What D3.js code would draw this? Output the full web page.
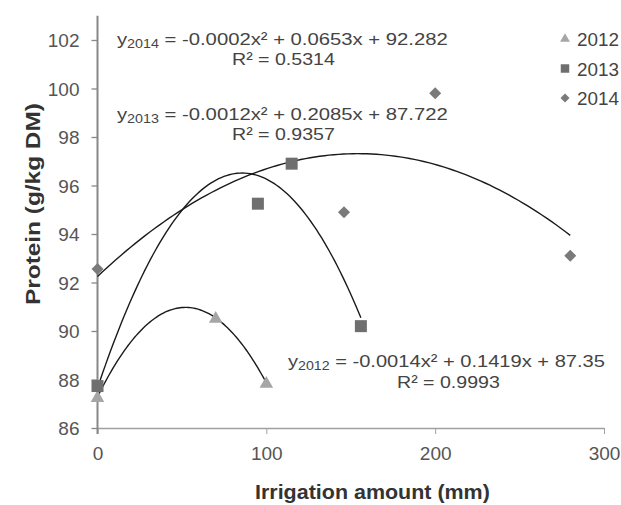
<!DOCTYPE html>
<html>
<head>
<meta charset="utf-8">
<script src="https://cdn.jsdelivr.net/npm/d3@7"></script>
<style>
  body { margin: 0; background: #fff; }
  svg { display: block; font-family: "Liberation Sans", Arial, sans-serif; }
</style>
</head>
<body>
<svg id="chart"></svg>
<script>
(function() {

    // Data
    const years = ['2012', '2013', '2014'];
    const irrigation2012 = [0, 70, 100];
    const protein2012 = [87.28, 90.54, 87.86];
    const irrigation2013 = [0, 95, 115, 156];
    const protein2013 = [87.73, 95.25, 96.9, 90.2];
    const irrigation2014 = [0, 146, 200, 280];
    const protein2014 = [92.56, 94.9, 99.8, 93.1];
    const xTicks = [0, 100, 200, 300];
    const yTicks = [86, 88, 90, 92, 94, 96, 98, 100, 102];
    const eqSubs = ['2014', '2013', '2012'];
    const eqTexts = [' = -0.0002x² + 0.0653x + 92.282', ' = -0.0012x² + 0.2085x + 87.722', ' = -0.0014x² + 0.1419x + 87.35'];
    const r2Texts = ['R² = 0.5314', 'R² = 0.9357', 'R² = 0.9993'];

    const w = 621;
    const h = 505;

    const series = [
        { year: years[0], xs: irrigation2012, ys: protein2012, shape: 'triangle', color: '#a6a6a6' },
        { year: years[1], xs: irrigation2013, ys: protein2013, shape: 'square', color: '#6f6f6f' },
        { year: years[2], xs: irrigation2014, ys: protein2014, shape: 'diamond', color: '#7a7a7a' }
    ];

    // least squares, 2nd order (what the trendline is)
    const polyfit = (xs, ys) => {
        let s = [0, 0, 0, 0, 0], t = [0, 0, 0];
        xs.forEach((x, i) => {
            for (let k = 0; k < 5; k++) s[k] += Math.pow(x, k);
            for (let k = 0; k < 3; k++) t[k] += ys[i] * Math.pow(x, k);
        });
        const m = [
            [s[0], s[1], s[2], t[0]],
            [s[1], s[2], s[3], t[1]],
            [s[2], s[3], s[4], t[2]]
        ];
        for (let i = 0; i < 3; i++) {
            let p = i;
            for (let r = i + 1; r < 3; r++) if (Math.abs(m[r][i]) > Math.abs(m[p][i])) p = r;
            [m[i], m[p]] = [m[p], m[i]];
            for (let r = 0; r < 3; r++) {
                if (r === i) continue;
                const f = m[r][i] / m[i][i];
                for (let c = i; c < 4; c++) m[r][c] -= f * m[i][c];
            }
        }
        return [m[0][3] / m[0][0], m[1][3] / m[1][1], m[2][3] / m[2][2]];
    };

    // stretch a text group so it covers [x0, x0 + width] (in its parent's coords)
    const fitText = (g, x0, y, width) => {
        const bb = g.node().getBBox();
        g.attr('transform', `translate(${x0 - bb.x * width / bb.width}, ${y}) scale(${width / bb.width}, 1)`);
    };

    // Scales
    const scaleX = d3.scaleLinear().domain([0, 300]).range([97.5, 604]);
    const scaleY = d3.scaleLinear().domain([86, 103]).range([428, 15.75]);

    const svg = d3.select('#chart')
        .attr('width', w)
        .attr('height', h);

    // Axes
    const xAxis = d3.axisBottom(scaleX).tickValues(xTicks).tickSize(6).tickSizeOuter(0);
    const yAxis = d3.axisLeft(scaleY).tickValues(yTicks).tickSize(6).tickSizeOuter(0);

    const gx = svg.append('g')
        .attr('transform', `translate(0, ${scaleY(86)})`)
        .call(xAxis);
    gx.select('.domain').attr('stroke', '#a0a0a0').attr('stroke-width', 1.3);
    gx.selectAll('.tick line').attr('stroke', '#a0a0a0');
    gx.selectAll('.tick text')
        .attr('dy', 0).attr('y', 32)
        .style('font-size', '19px').attr('fill', '#555');

    const gy = svg.append('g')
        .attr('transform', `translate(${scaleX(0)}, 0)`)
        .call(yAxis);
    gy.select('.domain').attr('d', `M0,${scaleY(86) + 6}V${scaleY(103)}`)
        .attr('stroke', '#888').attr('stroke-width', 2);
    gy.selectAll('.tick line').attr('stroke', '#888').attr('stroke-width', 1.3);
    gy.selectAll('.tick text')
        .attr('x', -18).attr('dy', '0.35em')
        .style('font-size', '19px').attr('fill', '#555');

    // Axis titles
    const yTitle = svg.append('g');
    yTitle.append('text')
        .style('font-size', '20px').style('font-weight', 'bold')
        .attr('fill', '#333')
        .text('Protein (g/kg DM)');
    const yb = yTitle.node().getBBox();
    yTitle.attr('transform', `translate(40, 305) rotate(-90) scale(${202 / yb.width}, 1)`);

    const xTitle = svg.append('g');
    xTitle.append('text')
        .style('font-size', '20px').style('font-weight', 'bold')
        .attr('fill', '#333')
        .text('Irrigation amount (mm)');
    fitText(xTitle, 255, 499, 235);

    // Trendlines
    const line = d3.line().x(d => scaleX(d[0])).y(d => scaleY(d[1]));
    series.forEach(s => {
        const [c, b, a] = polyfit(s.xs, s.ys);
        const x0 = d3.min(s.xs), x1 = d3.max(s.xs);
        const pts = d3.range(0, 101).map(i => {
            const x = x0 + (x1 - x0) * i / 100;
            return [x, a * x * x + b * x + c];
        });
        svg.append('path')
            .attr('d', line(pts))
            .attr('fill', 'none')
            .attr('stroke', '#1a1a1a')
            .attr('stroke-width', 1.4);
    });

    // Markers
    const symbolFor = (shape, big) => {
        if (shape === 'triangle') return d3.symbol(d3.symbolTriangle, big ? 80 : 42)();
        if (shape === 'square') return d3.symbol(d3.symbolSquare, big ? 144 : 72)();
        return d3.symbol(d3.symbolSquare, big ? 72 : 40)();
    };

    series.forEach(s => {
        svg.append('g').selectAll('path')
            .data(s.xs.map((x, i) => [x, s.ys[i]]))
            .enter().append('path')
            .attr('d', symbolFor(s.shape, true))
            .attr('transform', d => `translate(${scaleX(d[0])}, ${scaleY(d[1]) + (s.shape === 'triangle' ? 1 : 0)})` + (s.shape === 'diamond' ? ' rotate(45)' : ''))
            .attr('fill', s.color);
    });

    // Equations
    const eqPos = [
        { x: 117, y: 45, w: 331, rx: 232, ry: 65 },
        { x: 117, y: 120, w: 331, rx: 232, ry: 140 },
        { x: 288, y: 367, w: 317, rx: 397, ry: 388 }
    ];
    eqTexts.forEach((eq, i) => {
        const g = svg.append('g');
        const t = g.append('text')
            .style('font-size', '17px')
            .attr('fill', '#444');
        t.append('tspan').text('y');
        t.append('tspan').text(eqSubs[i]).style('font-size', '12px').attr('dy', '3');
        t.append('tspan').text(eq).attr('dy', '-3');
        fitText(g, eqPos[i].x, eqPos[i].y, eqPos[i].w);

        const g2 = svg.append('g');
        g2.append('text')
            .style('font-size', '17px')
            .attr('fill', '#444')
            .text(r2Texts[i]);
        fitText(g2, eqPos[i].rx, eqPos[i].ry, 103);
    });

    // Legend
    const legend = svg.append('g').attr('transform', 'translate(565, 39)');
    series.forEach((s, i) => {
        const row = legend.append('g').attr('transform', `translate(0, ${i * 29.5})`);
        row.append('path')
            .attr('d', symbolFor(s.shape, false))
            .attr('transform', s.shape === 'diamond' ? 'rotate(45)' : null)
            .attr('fill', s.color);
        const tg = row.append('g');
        tg.append('text')
            .style('font-size', '18px')
            .attr('fill', '#444')
            .text(s.year);
        fitText(tg, 12, 7, 42);
    });

})();
</script>
</body>
</html>
